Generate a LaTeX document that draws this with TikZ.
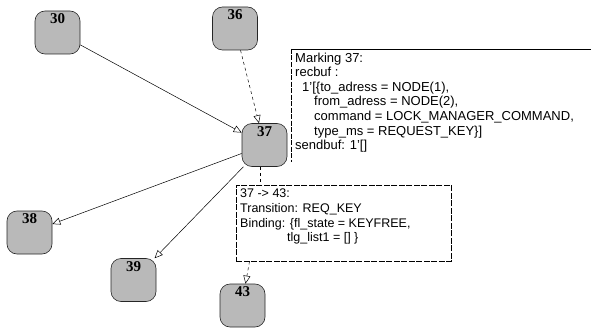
\documentclass[tikz,border=0pt]{standalone}
\usepackage{fontspec}
\setmainfont{Liberation Sans}
\newfontfamily\numserif{Liberation Serif}
\usetikzlibrary{arrows.meta}
\tikzset{
  state/.style={draw=black!85, line width=0.6pt, fill=gray!55, rounded corners=10pt,
    minimum width=45pt, minimum height=43pt, inner sep=0pt},
  num/.style={anchor=north, inner sep=0pt, yshift=-3pt, font=\numserif\bfseries\fontsize{15}{15}\selectfont},
  conn/.style={line width=0.5pt, -{Triangle[open,length=8pt,width=7pt]}},
  infotext/.style={anchor=north west, align=left, inner sep=0pt, font=\fontsize{12.5}{14.6}\selectfont},
}
\begin{document}
\begin{tikzpicture}[x=1pt,y=-1pt]
\useasboundingbox (0,0) rectangle (591,329);
% states
\node[state, label={[num]north:30}] (n30) at (57.5,32.5) {};
\node[state, label={[num]north:36}] (n36) at (235,28.5) {};
\node[state, label={[num]north:37}] (n37) at (264.5,145) {};
\node[state, label={[num]north:38}] (n38) at (29.5,232.5) {};
\node[state, label={[num]north:39}] (n39) at (133.5,280) {};
\node[state, label={[num]north:43}] (n43) at (242.5,305.5) {};
% marking box
\coordinate (mtl) at (291,49);
\coordinate (mtr) at (591,49);
\coordinate (mbl) at (291,162);
\draw[line width=0.5pt] (mtl) -- (mtr);
\draw[line width=0.5pt, dashed, dash pattern=on 5pt off 1.5pt] (mtl) -- (mbl);
\node[infotext, font=\fontsize{13}{14.6}\selectfont] (mark) at (295,52.5) {Marking 37:\\
recbuf :\\
\hspace*{7pt}1'[\{to\_adress = NODE(1),\\
\hspace*{19pt}from\_adress = NODE(2),\\
\hspace*{19pt}command = LOCK\_MANAGER\_COMMAND,\\
\hspace*{19pt}type\_ms = REQUEST\_KEY\}]\\
sendbuf: 1'[]};
% transition box
\node[draw, line width=0.5pt, dash pattern=on 6pt off 1.5pt, anchor=north west,
  minimum width=215pt, minimum height=76pt, inner sep=0pt] (trans) at (236,185) {};
\node[infotext] (transtxt) at (240,189) {37 -> 43:\\
Transition: REQ\_KEY\\
Binding: \{fl\_state = KEYFREE,\\
\hspace*{47pt}tlg\_list1 = [] \}};
% connectors
\draw[conn] (n30) -- (n37);
\draw[conn, dashed] (n36) -- (n37);
\draw[conn] (n37) -- (n38);
\draw[conn] (n37) -- (n39);
\draw[line width=0.5pt, dashed] ([xshift=-4pt]n37.south) -- ([xshift=-4pt]n37.south |- trans.north);
\draw[conn, dashed] ([xshift=7pt]n43.north |- trans.south) -- ([xshift=3pt]n43.north);
\end{tikzpicture}
\end{document}
